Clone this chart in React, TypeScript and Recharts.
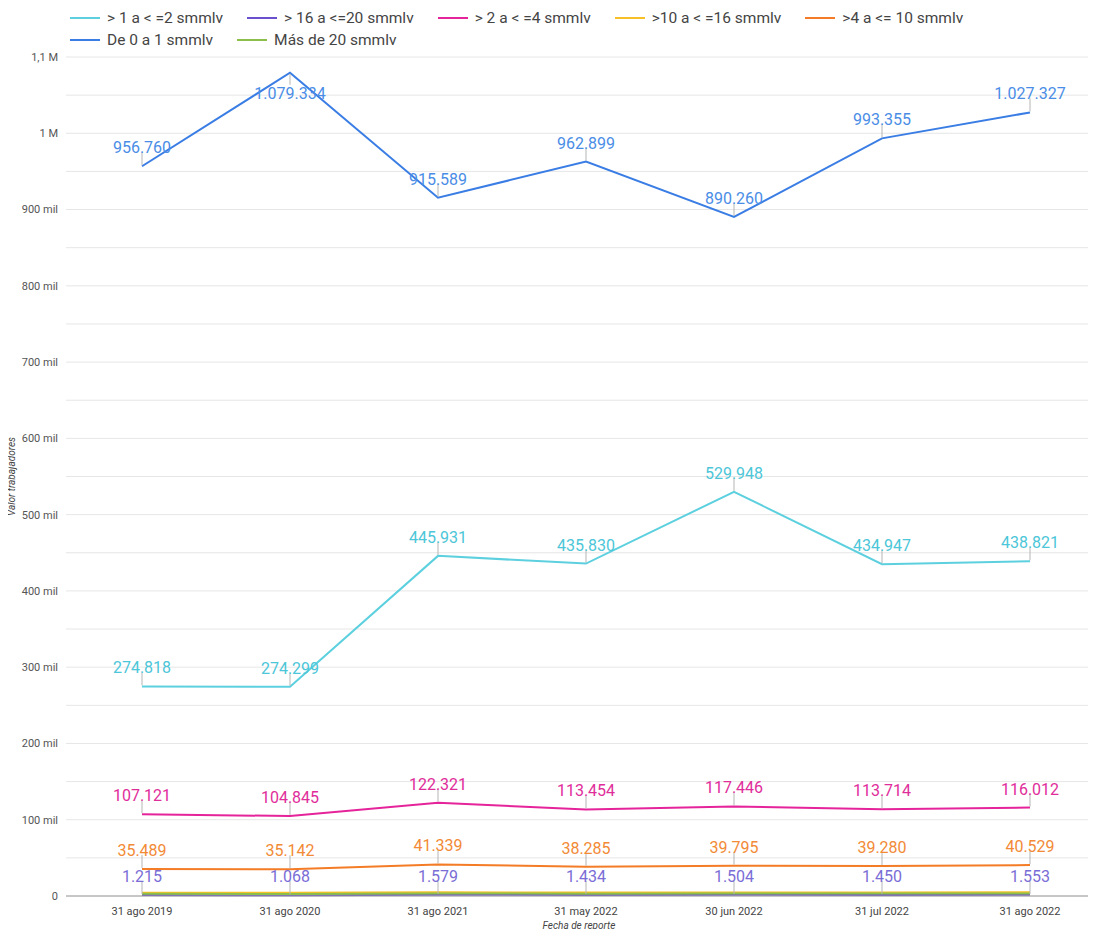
import React from 'react';
import { LineChart, Line, XAxis, YAxis, CartesianGrid, LabelList } from 'recharts';

// fechas de reporte
const fechas = ['31 ago 2019', '31 ago 2020', '31 ago 2021', '31 may 2022', '30 jun 2022', '31 jul 2022', '31 ago 2022'];

// trabajadores por rango salarial
const rango1a2 = [274818, 274299, 445931, 435830, 529948, 434947, 438821];
const rango16a20 = [1215, 1068, 1579, 1434, 1504, 1450, 1553];
const rango2a4 = [107121, 104845, 122321, 113454, 117446, 113714, 116012];
const rango10a16 = [4210, 4102, 4850, 4606, 4725, 4633, 4805];
const rango4a10 = [35489, 35142, 41339, 38285, 39795, 39280, 40529];
const rango0a1 = [956760, 1079334, 915589, 962899, 890260, 993355, 1027327];
const masDe20 = [2810, 2754, 3290, 3102, 3188, 3140, 3275];

const yTicks = Array.from({ length: 23 }, (_, i) => i * 50000);

const series = [
  { key: 'r1a2', name: '> 1 a < =2 smmlv', values: rango1a2, color: '#5dd0df', labelColor: '#4cc6d8', labels: true },
  { key: 'r16a20', name: '> 16 a <=20 smmlv', values: rango16a20, color: '#6a4fcf', labelColor: '#7a6dd6', labels: true },
  { key: 'r2a4', name: '> 2 a < =4 smmlv', values: rango2a4, color: '#e5239a', labelColor: '#df2d9a', labels: true },
  { key: 'r10a16', name: '>10 a < =16 smmlv', values: rango10a16, color: '#f6c026', labelColor: '#f6c026', labels: false },
  { key: 'r4a10', name: '>4 a <= 10 smmlv', values: rango4a10, color: '#f47c26', labelColor: '#f28a36', labels: true },
  { key: 'r0a1', name: 'De 0 a 1 smmlv', values: rango0a1, color: '#3a7de4', labelColor: '#4a8de6', labels: true },
  { key: 'm20', name: 'Más de 20 smmlv', values: masDe20, color: '#8bbf4c', labelColor: '#8bbf4c', labels: false },
];

const data = fechas.map((f, i) => {
  const row: Record<string, string | number> = { fecha: f };
  series.forEach((s) => {
    row[s.key] = s.values[i];
  });
  return row;
});

const fmtNum = (v: number) => String(v).replace(/\B(?=(\d{3})+(?!\d))/g, '.');

const fmtTick = (v: number) => {
  if (v % 100000 !== 0) return '';
  if (v === 0) return '0';
  if (v >= 1000000) return String(v / 1000000).replace('.', ',') + ' M';
  return v / 1000 + ' mil';
};

const PLOT_TOP = 57;

const makeLabel = (color: string) => (props: any) => {
  const { x, y, value } = props;
  if (x == null || y == null) return null;
  const below = y - 26 < PLOT_TOP;
  if (below) {
    return (
      <g>
        <line x1={x} x2={x} y1={y + 1} y2={y + 12} stroke="#b5b5b5" strokeWidth={1} />
        <text x={x} y={y + 26} textAnchor="middle" fill={color} fontSize={16}>
          {fmtNum(value)}
        </text>
      </g>
    );
  }
  return (
    <g>
      <line x1={x} x2={x} y1={y - 1} y2={y - 14} stroke="#b5b5b5" strokeWidth={1} />
      <text x={x} y={y - 13} textAnchor="middle" fill={color} fontSize={16}>
        {fmtNum(value)}
      </text>
    </g>
  );
};

export default function App() {
  return (
    <div style={{ position: 'relative', margin: -8, width: 1096, height: 937, background: '#fff', fontFamily: 'Roboto, sans-serif' }}>
      <div
        style={{
          position: 'absolute',
          left: 70,
          top: 8,
          width: 980,
          display: 'flex',
          flexWrap: 'wrap',
          columnGap: 24,
          rowGap: 2,
          fontSize: 15.5,
          color: '#444',
          zIndex: 2,
        }}
      >
        {series.map((s) => (
          <div key={s.key} style={{ display: 'flex', alignItems: 'center', height: 20 }}>
            <div style={{ width: 30, height: 2, background: s.color, marginRight: 7 }} />
            <span>{s.name}</span>
          </div>
        ))}
      </div>
      <LineChart width={1096} height={937} data={data} margin={{ top: PLOT_TOP, right: 4, bottom: 1, left: 0 }}>
        <CartesianGrid stroke="#e6e6e6" vertical={false} />
        <XAxis
          dataKey="fecha"
          height={40}
          padding={{ left: 76, right: 62 }}
          tickLine={false}
          axisLine={{ stroke: '#9a9a9a' }}
          tick={{ fill: '#444', fontSize: 11, dy: 3 }}
          label={(p: any) => {
            const vb = p.viewBox || {};
            const cx = (vb.x ?? 66) + (vb.width ?? 1026) / 2;
            return (
              <text x={cx} y={929} textAnchor="middle" fill="#444" fontSize={10} fontStyle="italic">
                Fecha de reporte
              </text>
            );
          }}
        />
        <YAxis
          width={66}
          domain={[0, 1100000]}
          ticks={yTicks}
          interval={0}
          tickFormatter={fmtTick}
          tickLine={false}
          axisLine={false}
          tick={{ fill: '#555', fontSize: 11 }}
          label={(p: any) => {
            const vb = p.viewBox || {};
            const cy = (vb.y ?? PLOT_TOP) + (vb.height ?? 839) / 2;
            return (
              <text x={15} y={cy} transform={`rotate(-90 15 ${cy})`} textAnchor="middle" fill="#444" fontSize={10} fontStyle="italic">
                Valor trabajadores
              </text>
            );
          }}
        />
        {series.map((s) => (
          <Line
            key={s.key}
            type="linear"
            dataKey={s.key}
            name={s.name}
            stroke={s.color}
            strokeWidth={2}
            dot={false}
            isAnimationActive={false}
          >
            {s.labels && <LabelList dataKey={s.key} content={makeLabel(s.labelColor)} />}
          </Line>
        ))}
      </LineChart>
    </div>
  );
}
